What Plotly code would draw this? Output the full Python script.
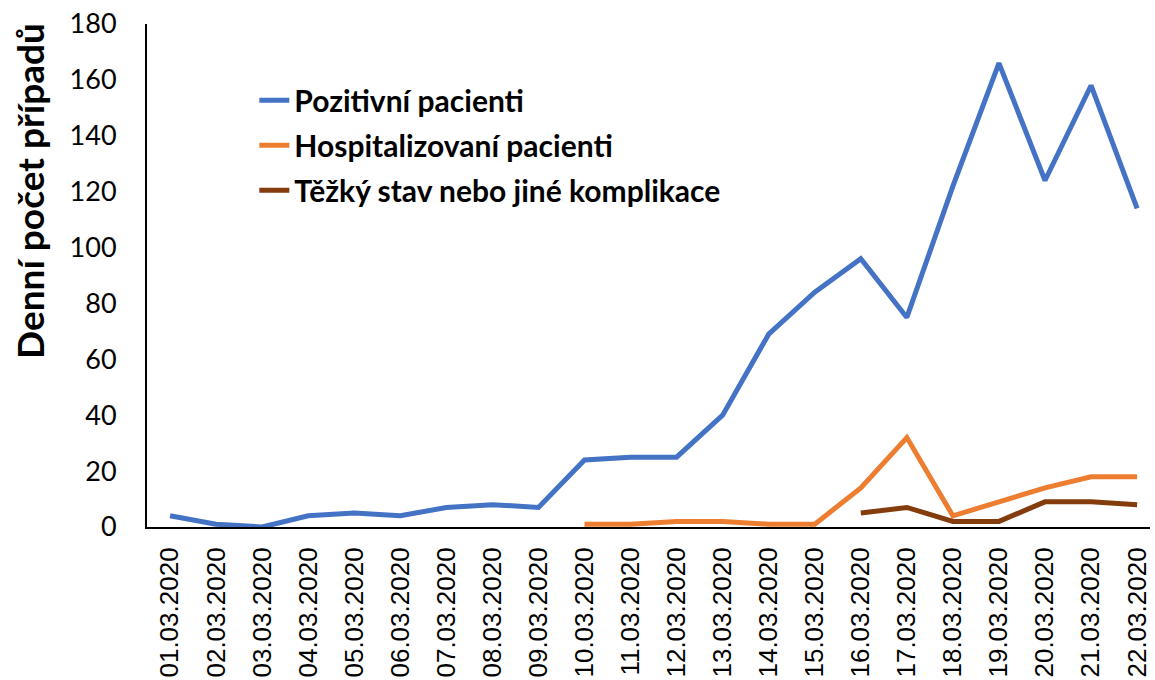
import plotly.graph_objects as go

dates = ["01.03.2020", "02.03.2020", "03.03.2020", "04.03.2020", "05.03.2020",
         "06.03.2020", "07.03.2020", "08.03.2020", "09.03.2020", "10.03.2020",
         "11.03.2020", "12.03.2020", "13.03.2020", "14.03.2020", "15.03.2020",
         "16.03.2020", "17.03.2020", "18.03.2020", "19.03.2020", "20.03.2020",
         "21.03.2020", "22.03.2020"]
pozitivni = [4, 1, 0, 4, 5, 4, 7, 8, 7, 24, 25, 25, 40, 69, 84, 96, 75, 122, 166, 124, 158, 114]
hospitalizovani = [None] * 9 + [1, 1, 2, 2, 1, 1, 14, 32, 4, 9, 14, 18, 18]
tezky = [None] * 15 + [5, 7, 2, 2, 9, 9, 8]

names = ["Pozitivní pacienti", "Hospitalizovaní pacienti", "Těžký stav nebo jiné komplikace"]
colors = ["#4472C4", "#ED7D31", "#843C0C"]
series = [pozitivni, hospitalizovani, tezky]
y_title = "Denní počet případů"

fig = go.Figure()
for n, c, s in zip(names, colors, series):
    fig.add_trace(go.Scatter(x=dates, y=s, name=n, mode="lines", legendgroup=n,
                             line=dict(color=c, width=5), connectgaps=False))

fig.update_layout(
    width=1155, height=680,
    paper_bgcolor="white", plot_bgcolor="white",
    margin=dict(l=147, r=5, t=24, b=153),
    font=dict(family="Lato, Open Sans, sans-serif", color="black"),
    showlegend=True,
    legend=dict(x=0.107, y=0.9, xanchor="left", yanchor="top",
                font=dict(size=30, family="Lato", weight="bold"),
                bgcolor="rgba(0,0,0,0)", tracegroupgap=3, itemwidth=30),
)
fig.add_annotation(text=y_title, xref="paper", yref="paper",
                   x=-0.1167, y=0.668, xanchor="center", yanchor="middle",
                   textangle=-90, showarrow=False,
                   font=dict(family="Lato", size=37, weight="bold", color="black"))
fig.update_xaxes(type="category", range=[-0.5, 21.28], showgrid=False,
                 showline=True, linecolor="black", linewidth=2,
                 tickangle=-90, automargin=False,
                 tickfont=dict(family="Liberation Sans, Arial", size=26),
                 ticks="outside", ticklen=8, tickcolor="rgba(0,0,0,0)")
fig.update_yaxes(range=[0, 180], dtick=20, showgrid=False, zeroline=False,
                 showline=True, linecolor="black", linewidth=2,
                 automargin=False,
                 tickfont=dict(family="Lato", size=27),
                 ticks="outside", ticklen=23, tickcolor="rgba(0,0,0,0)")

fig.write_html("out.html", config={"displayModeBar": False},
               post_script="document.body.style.margin='0';")
